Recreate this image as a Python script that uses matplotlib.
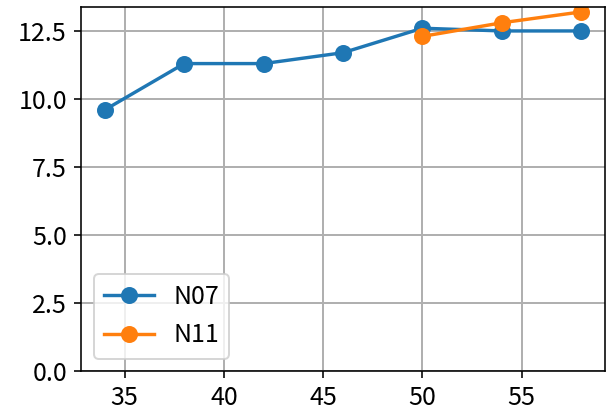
import matplotlib
matplotlib.use("Agg")
import matplotlib.pyplot as plt
from matplotlib.ticker import MultipleLocator

plt.rcParams['font.family'] = ['Noto Sans CJK JP', 'DejaVu Sans']
plt.rcParams['font.size'] = 12.5

x_n07 = [34, 38, 42, 46, 50, 54, 58]
y_n07 = [9.6, 11.3, 11.3, 11.7, 12.6, 12.5, 12.5]
x_n11 = [50, 54, 58]
y_n11 = [12.3, 12.8, 13.2]

dpi = 144
fig = plt.figure(figsize=(607 / dpi, 414 / dpi), dpi=dpi)
ax = fig.add_axes([81 / 607, 43 / 414, (605 - 81) / 607, (371 - 7) / 414])
ax.plot(x_n07, y_n07, marker='o', label='N07', linewidth=1.7, markersize=7.5)
ax.plot(x_n11, y_n11, marker='o', label='N11', linewidth=1.7, markersize=7.5)
ax.set_ylim(bottom=0)
ax.yaxis.set_major_locator(MultipleLocator(2.5))
ax.grid(True, linewidth=1.0)
ax.legend(loc='lower left')
fig.savefig('out.png', dpi=dpi)
